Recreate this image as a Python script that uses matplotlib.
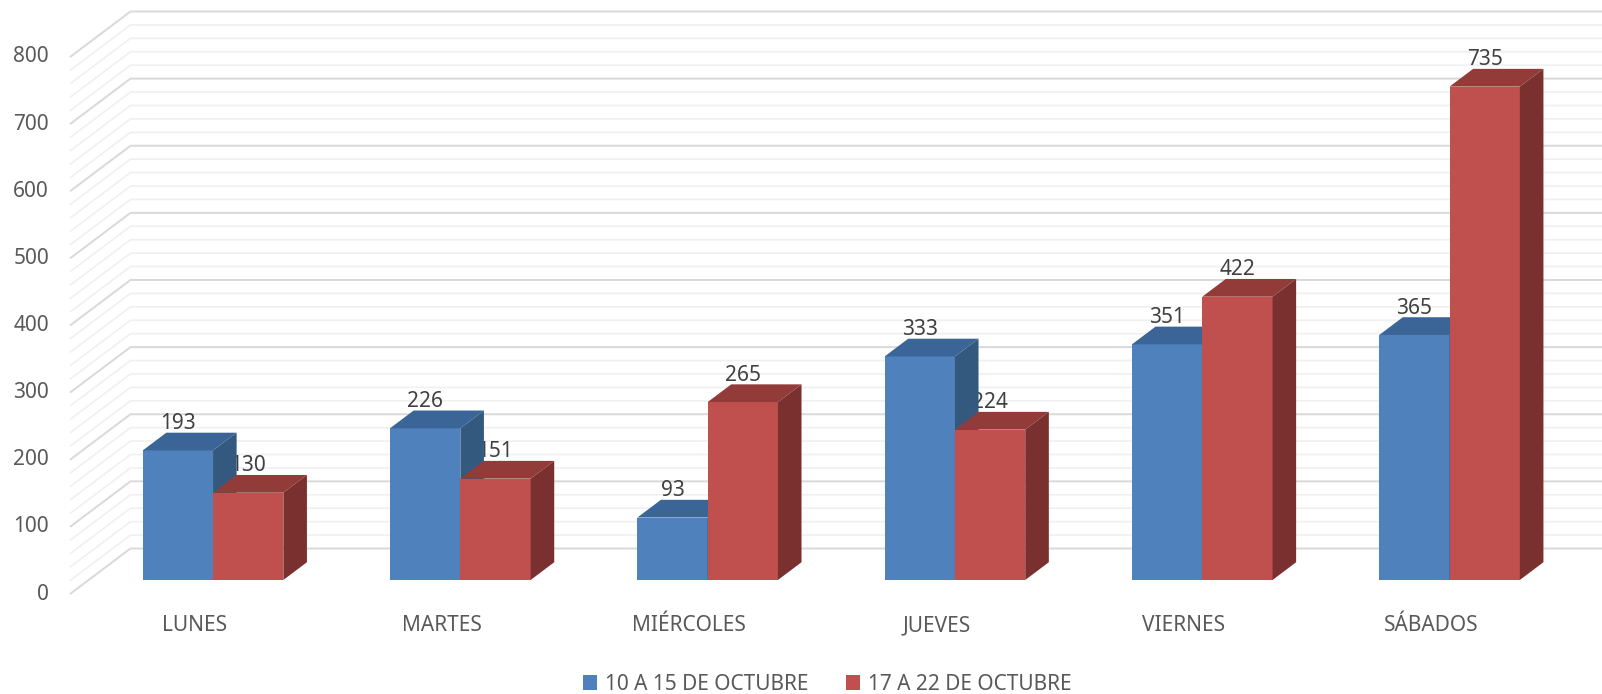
import matplotlib
matplotlib.use('Agg')
import matplotlib.pyplot as plt
from matplotlib.patches import Polygon, Patch

plt.rcParams['font.family'] = ['Noto Sans', 'DejaVu Sans']

# Data ------------------------------------------------------------------
days = ['LUNES', 'MARTES', 'MIÉRCOLES', 'JUEVES', 'VIERNES', 'SÁBADOS']
week1 = [193, 226, 93, 333, 351, 365]
week2 = [130, 151, 265, 224, 422, 735]
series_names = ['10 A 15 DE OCTUBRE', '17 A 22 DE OCTUBRE']
yticks = [0, 100, 200, 300, 400, 500, 600, 700, 800]

# Colours: front, top, side for each series
blue = ('#4F81BD', '#3B6596', '#34597F')
red = ('#C0504D', '#933B39', '#7A302E')
text_grey = '#595959'

# Fake 3D layout ----------------------------------------------------------
# x is in category units, y in value units; depth is a fraction 0..1 of the box
DX = 0.2446          # horizontal shift from front plane to back wall
DY = 67.8            # vertical shift from front plane to back wall
wall_x = -0.503      # left edge of the box on the front plane
bar_w = 0.2843
bar_front = 0.308    # depth of the bar front faces
bar_depth = 0.39     # depth of each bar

W, H = 1602, 694
fig = plt.figure(figsize=(W / 100, H / 100), dpi=100)
ax = fig.add_axes([0, 0, 1, 1])
px_x = 247.3         # pixels per category
px_y = 537 / 800     # pixels per value unit
x0_px, y0_px = 194.4, 594
ax.set_xlim(-x0_px / px_x, (W - x0_px) / px_x)
ax.set_ylim((y0_px - H) / px_y, y0_px / px_y)
ax.axis('off')

# Gridlines: side wall diagonals + back wall horizontals
for v in range(0, 801, 20):
    major = v % 100 == 0
    col = '#D9D9D9' if major else '#F0F0F0'
    ax.plot([wall_x, wall_x + DX, ax.get_xlim()[1]], [v, v + DY, v + DY],
            color=col, lw=1.4 if major else 1.2, zorder=1, solid_capstyle='butt')


def draw_bar(xl, value, colours, z):
    front, top, side = colours
    sx = bar_front * DX
    sy = bar_front * DY
    bx = bar_depth * DX
    by = bar_depth * DY
    xa, xb = xl + sx, xl + bar_w + sx
    yb, yt = sy, value + sy
    ax.add_patch(Polygon([(xa, yb), (xb, yb), (xb, yt), (xa, yt)],
                         closed=True, fc=front, ec='none', zorder=z))
    ax.add_patch(Polygon([(xa, yt), (xb, yt), (xb + bx, yt + by), (xa + bx, yt + by)],
                         closed=True, fc=top, ec='none', zorder=z))
    ax.add_patch(Polygon([(xb, yb), (xb + bx, yb + by), (xb + bx, yt + by), (xb, yt)],
                         closed=True, fc=side, ec='none', zorder=z))
    ax.annotate(str(value), ((xa + xb) / 2, yt + by), xytext=(0, 2.5),
                textcoords='offset points', ha='center', va='baseline',
                fontsize=15, color='#404040', zorder=2)


z = 3
for i in range(len(days)):
    draw_bar(i - bar_w, week1[i], blue, z)
    z += 1
    draw_bar(i, week2[i], red, z)
    z += 1
    ax.text(i, -47.5, days[i], ha='center', va='center', fontsize=15, color=text_grey)

for v in yticks:
    ax.text(-0.588, v, str(v), ha='right', va='center', fontsize=15, color=text_grey)

handles = [Patch(fc=blue[0], ec='none'), Patch(fc=red[0], ec='none')]
fig.legend(handles, series_names, loc='center', bbox_to_anchor=(827 / W, 10 / H),
           ncol=2, frameon=False, fontsize=15, labelcolor=text_grey,
           handlelength=0.7, handleheight=0.7, handletextpad=0.35, columnspacing=1.8)

fig.savefig('out.png', dpi=100)
